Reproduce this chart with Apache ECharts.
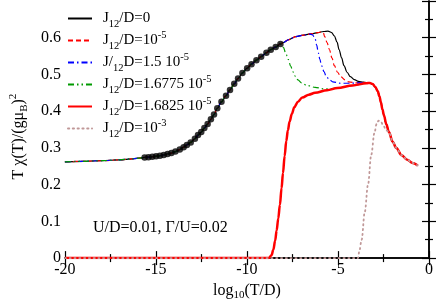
<!DOCTYPE html>
<html><head><meta charset="utf-8">
<script src="https://cdn.jsdelivr.net/npm/echarts@6/dist/echarts.min.js"></script>
<style>html,body{margin:0;padding:0;background:#fff}#c{width:436px;height:306px}</style>
</head><body><div id="c"></div>
<script>
// ---- data ----
const xTicks = [-20, -15, -10, -5, 0];
const yTicks = [0, 0.1, 0.2, 0.3, 0.4, 0.5, 0.6];

const lowPrefix = [[-20,0.262],[-19,0.2636],[-18,0.2652],[-17,0.2675],[-16.3,0.2703],[-15.8,0.2728]];
const dots = [[-15.62,0.274],[-15.41,0.2747],[-15.2,0.2757],[-14.99,0.2773],[-14.78,0.279],[-14.57,0.281],
  [-14.36,0.2835],[-14.15,0.286],[-13.93,0.290],[-13.69,0.2956],[-13.48,0.302],[-13.30,0.308],[-13.09,0.315],
  [-12.86,0.325],[-12.69,0.335],[-12.51,0.343],[-12.34,0.354],[-12.16,0.365],[-11.98,0.378],[-11.81,0.391],
  [-11.63,0.408],[-11.4,0.4256],[-11.15,0.442],[-10.93,0.458],[-10.7,0.4745],[-10.49,0.489],[-10.25,0.504],
  [-9.99,0.517],[-9.75,0.528],[-9.48,0.539],[-9.22,0.5485],[-8.93,0.559],[-8.69,0.5676],[-8.42,0.5746],[-8.16,0.583]];

const j0Upper = [[-8.0,0.587],[-7.7,0.595],[-7.32,0.603],[-6.9,0.607],[-6.43,0.611],[-6.1,0.614],[-5.8,0.617],
  [-5.55,0.618],[-5.35,0.614],[-5.2,0.605],[-5.05,0.588],[-4.94,0.568],[-4.8,0.545],[-4.67,0.524],[-4.5,0.506],
  [-4.32,0.494],[-4.1,0.486],[-3.88,0.481],[-3.6,0.479],[-3.3,0.477]];
const j1Upper = [[-8.0,0.587],[-7.7,0.595],[-7.32,0.603],[-6.9,0.607],[-6.43,0.611],[-6.1,0.614],[-5.9,0.616],
  [-5.8,0.613],[-5.73,0.603],[-5.6,0.587],[-5.47,0.568],[-5.33,0.545],[-5.2,0.524],[-5.02,0.506],[-4.85,0.494],
  [-4.6,0.485],[-4.41,0.48],[-3.96,0.477],[-3.6,0.477],[-3.3,0.477]];
const j15Upper = [[-8.0,0.587],[-7.7,0.595],[-7.32,0.603],[-6.9,0.607],[-6.55,0.61],[-6.4,0.608],[-6.26,0.598],
  [-6.17,0.58],[-6.08,0.559],[-6.0,0.542],[-5.9,0.524],[-5.77,0.508],[-5.64,0.494],[-5.45,0.485],[-5.29,0.48],
  [-4.85,0.476],[-4.4,0.476],[-3.9,0.477],[-3.3,0.477]];
const j16775Upper = [[-8.0,0.574],[-7.87,0.558],[-7.73,0.541],[-7.6,0.523],[-7.47,0.507],[-7.33,0.494],[-7.2,0.485],
  [-7.0,0.477],[-6.7,0.47],[-6.26,0.465],[-5.8,0.461],[-5.4,0.461],[-5.03,0.463],[-4.2,0.47],[-3.44,0.476],[-3.25,0.477]];
const j16825 = [[-20,0],[-8.8,0],[-8.65,0.008],[-8.55,0.023],[-8.45,0.048],[-8.37,0.075],[-8.28,0.108],[-8.19,0.145],
  [-8.1,0.19],[-8.02,0.232],[-7.93,0.278],[-7.84,0.319],[-7.75,0.348],[-7.66,0.371],[-7.53,0.393],[-7.40,0.411],
  [-7.2,0.426],[-6.96,0.437],[-6.6,0.445],[-6.26,0.45],[-5.6,0.457],[-5.03,0.463],[-4.2,0.47],[-3.44,0.476],[-3.25,0.477]];
const highT = [[-3.1,0.474],[-2.95,0.466],[-2.82,0.455],[-2.72,0.44],[-2.64,0.424],[-2.56,0.405],[-2.47,0.388],
  [-2.35,0.365],[-2.2,0.343],[-2.0,0.317],[-1.8,0.3],[-1.5,0.28],[-1.2,0.268],[-0.9,0.259],[-0.62,0.252]];
const j3Upper = [[-20,0],[-3.9,0],[-3.83,0.018],[-3.7,0.05],[-3.53,0.125],[-3.35,0.2],[-3.17,0.282],[-3.0,0.34],
  [-2.88,0.365],[-2.77,0.374],[-2.65,0.372],[-2.5,0.36],[-2.35,0.348],[-2.2,0.343]];

const seriesNames = ['J0','J1','J15','J16775','J16825','J3'];
const legendLabels = {
  J0: '{j|J}{sub|12}{n|/D=0}',
  J1: '{j|J}{sub|12}{n|/D=10}{sup|-5}',
  J15: '{j|J/}{sub|12}{n|D=1.5 10}{sup|-5}',
  J16775: '{j|J}{sub|12}{n|/D=1.6775 10}{sup|-5}',
  J16825: '{j|J}{sub|12}{n|/D=1.6825 10}{sup|-5}',
  J3: '{j|J}{sub|12}{n|/D=10}{sup|-3}'
};

// ---- build ----
const lowT = lowPrefix.concat(dots);
const afterHigh = highT.filter(p => p[0] > -2.2);
const FONT = 'Liberation Serif';
const rich = {
  j: {fontFamily: FONT, fontSize: 15, lineHeight: 22, verticalAlign: 'middle', padding: [0,0,0,6], color: '#000'},
  n: {fontFamily: FONT, fontSize: 15, lineHeight: 22, verticalAlign: 'middle', color: '#000'},
  sub: {fontFamily: FONT, fontSize: 10.5, lineHeight: 10, verticalAlign: 'bottom', color: '#000'},
  sup: {fontFamily: FONT, fontSize: 10.5, lineHeight: 10, verticalAlign: 'top', color: '#000'}
};
function lineSeries(name, data, color, width, type, cap) {
  return {name, type: 'line', data, symbol: 'none', showSymbol: false, smooth: 0.35, smoothMonotone: 'x', animation: false,
    lineStyle: {color, width, type, cap: cap || 'butt'}, itemStyle: {color}};
}
const axisCommon = {
  axisLine: {show: true, lineStyle: {color: '#000', width: 1.5}},
  axisTick: {show: true, inside: true, length: 7, lineStyle: {color: '#000', width: 1.2}},
  minorTick: {show: true, splitNumber: 2, length: 4, lineStyle: {color: '#000', width: 1.2}},
  splitLine: {show: false}, minorSplitLine: {show: false}
};
const chart = echarts.init(document.getElementById('c'), null, {renderer: 'canvas'});
chart.setOption({
  backgroundColor: '#fff',
  animation: false,
  grid: {left: 53, right: 4, top: 1, bottom: 37, containLabel: false},
  legend: {
    data: seriesNames, orient: 'vertical', left: 62, top: 6, itemWidth: 24, itemHeight: 10, itemGap: 0,
    selectedMode: false, itemStyle: {opacity: 0, borderWidth: 0},
    formatter: n => legendLabels[n], textStyle: {rich}
  },
  xAxis: [
    Object.assign({type: 'value', min: xTicks[0], max: xTicks[xTicks.length-1], interval: 5, position: 'bottom',
      name: '{n|log}{sub|10}{n|(T/D)}', nameLocation: 'middle', nameGap: 12,
      nameTextStyle: {rich: {n: {fontFamily: FONT, fontSize: 16, lineHeight: 20, verticalAlign: 'middle', color: '#000'},
        sub: {fontFamily: FONT, fontSize: 11, lineHeight: 10, verticalAlign: 'bottom', color: '#000'}}},
      axisLabel: {fontFamily: FONT, fontSize: 16, color: '#000', margin: 4}}, axisCommon),
    Object.assign({type: 'value', min: -20, max: 0, interval: 5, position: 'top', axisLabel: {show: false}}, axisCommon)
  ],
  yAxis: [
    Object.assign({type: 'value', min: yTicks[0], max: 0.7, interval: 0.1, position: 'left',
      name: '{n|T χ(T)/(gμ}{sub|B}{n|)}{sup|2}', nameLocation: 'middle', nameGap: 30, nameRotate: 90,
      nameTextStyle: {rich: {n: {fontFamily: FONT, fontSize: 16, lineHeight: 22, verticalAlign: 'middle', color: '#000'},
        sub: {fontFamily: FONT, fontSize: 11, lineHeight: 10, verticalAlign: 'bottom', color: '#000'},
        sup: {fontFamily: FONT, fontSize: 11, lineHeight: 10, verticalAlign: 'top', color: '#000', padding: [0,14,0,0]}}},
      axisLabel: {fontFamily: FONT, fontSize: 16, color: '#000', margin: 4, showMaxLabel: false,
        formatter: v => (v === 0 ? '0' : v.toFixed(1))}}, axisCommon),
    Object.assign({type: 'value', min: 0, max: 0.7, interval: 0.1, position: 'right', axisLabel: {show: false}}, axisCommon)
  ],
  graphic: [{type: 'text', left: 93, top: 220, style: {text: 'U/D=0.01, Γ/U=0.02', fontFamily: FONT, fontSize: 16, fill: '#000'}}],
  series: [
    lineSeries('J0', lowT.concat(j0Upper, highT), '#000000', 1.2, 'solid'),
    lineSeries('J1', lowT.concat(j1Upper, highT), '#ff0000', 1.2, [5, 3]),
    lineSeries('J15', lowT.concat(j15Upper, highT), '#0000ff', 1.2, [6, 3, 1.5, 3]),
    lineSeries('J16775', lowT.concat(j16775Upper, highT), '#009a00', 1.2, [6, 3, 1.5, 3, 1.5, 3]),
    lineSeries('J16825', j16825.concat(highT), '#ff0000', 2.5, 'solid'),
    lineSeries('J3', j3Upper.concat(afterHigh), '#c09898', 1.8, [1.2, 3.6], 'round'),
    {name: 'dots', type: 'scatter', data: dots, symbol: 'circle', symbolSize: 6.5, itemStyle: {color: '#000'}, animation: false, z: 5}
  ]
});
</script></body></html>
